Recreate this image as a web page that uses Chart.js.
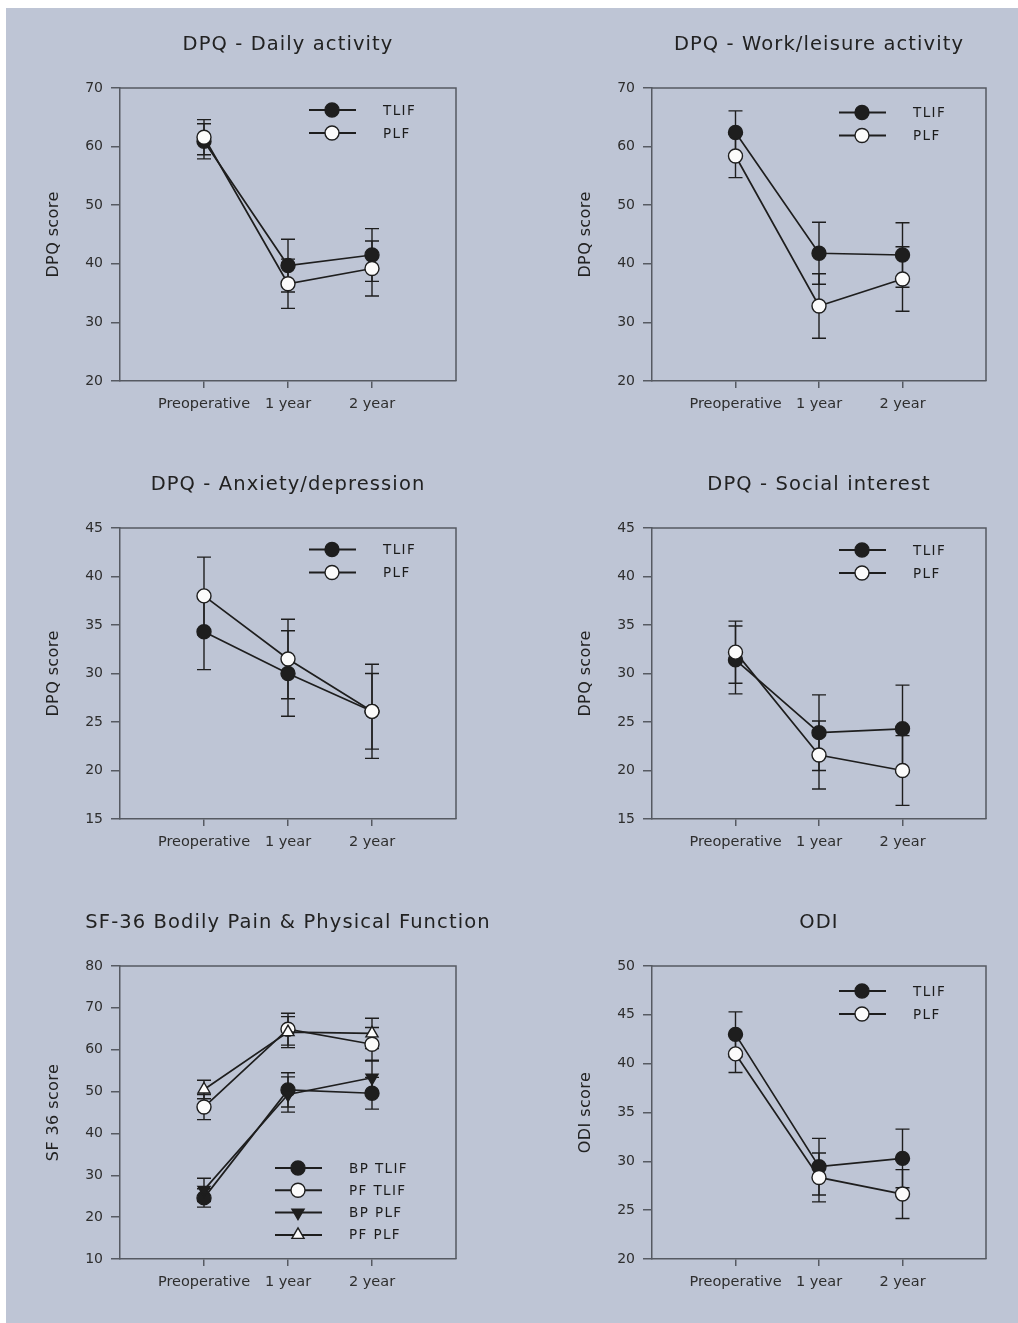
<!DOCTYPE html>
<html><head><meta charset="utf-8">
<script src="https://cdn.jsdelivr.net/npm/chart.js@4.4.1/dist/chart.umd.min.js"></script>
<style>
html,body{margin:0;padding:0;background:#fff;}
#page{position:relative;width:1018px;height:1323px;overflow:hidden;background:#fff;}
#bg{position:absolute;left:6px;top:8px;right:0;bottom:0;background:#bec5d5;}
canvas{position:absolute;}
</style></head><body>
<div id="page"><div id="bg"></div>
<canvas id="c1" width="509" height="440" style="left:0;top:0"></canvas>
<canvas id="c2" width="509" height="440" style="left:509px;top:0"></canvas>
<canvas id="c3" width="509" height="440" style="left:0;top:440px"></canvas>
<canvas id="c4" width="509" height="440" style="left:509px;top:440px"></canvas>
<canvas id="c5" width="509" height="443" style="left:0;top:880px"></canvas>
<canvas id="c6" width="509" height="443" style="left:509px;top:880px"></canvas>
</div>
<script>
// ---- data ----
const categories = ['Preoperative', '1 year', '2 year'];

const dailyTLIF = [60.9, 39.7, 41.5];
const dailyTLIFErr = [3.0, 4.5, 4.5];
const dailyPLF = [61.6, 36.6, 39.2];
const dailyPLFErr = [3.0, 4.2, 4.7];

const workTLIF = [62.4, 41.8, 41.5];
const workTLIFErr = [3.7, 5.3, 5.5];
const workPLF = [58.4, 32.8, 37.4];
const workPLFErr = [3.7, 5.5, 5.5];

const anxTLIF = [34.3, 30.0, 26.1];
const anxTLIFErr = [3.9, 4.4, 3.9];
const anxPLF = [38.0, 31.5, 26.1];
const anxPLFErr = [4.0, 4.1, 4.85];

const socTLIF = [31.4, 23.9, 24.3];
const socTLIFErr = [3.5, 3.9, 4.5];
const socPLF = [32.2, 21.6, 20.0];
const socPLFErr = [3.2, 3.5, 3.6];

const bpTLIF = [24.6, 50.4, 49.6];
const bpTLIFErr = [2.2, 4.1, 3.8];
const pfTLIF = [46.3, 64.9, 61.3];
const pfTLIFErr = [3.0, 3.8, 4.0];
const bpPLF = [26.5, 49.3, 53.3];
const bpPLFErr = [2.8, 4.2, 4.2];
const pfPLF = [50.5, 64.2, 63.9];
const pfPLFErr = [2.2, 3.7, 3.6];

const odiTLIF = [43.0, 29.45, 30.3];
const odiTLIFErr = [2.3, 2.9, 3.0];
const odiPLF = [41.0, 28.35, 26.65];
const odiPLFErr = [1.9, 2.5, 2.5];

// axis ranges [min, max, step]
const dpqActivityRange = [20, 70, 10];
const dpqMoodRange = [15, 45, 5];
const sf36Range = [10, 80, 10];
const odiRange = [20, 50, 5];

// ---- styles ----
const FONT = 'DejaVu Sans';
const LINE = '#1e1e1e';
const AXIS = '#565a62';
const TICK = '#2e2e2e';
const OPEN = '#fbfbfb';
const CAP = 7;
const YW = 60, XH = 40;

function drawMarker(ctx, style, rot, r, fill, x, y) {
  ctx.save();
  ctx.fillStyle = fill; ctx.strokeStyle = LINE; ctx.lineWidth = 1.4;
  ctx.beginPath();
  if (style === 'triangle') {
    let rad = rot * Math.PI / 180;
    for (let k = 0; k < 3; k++) {
      const px = x + Math.sin(rad) * r, py = y - Math.cos(rad) * r;
      if (k === 0) ctx.moveTo(px, py); else ctx.lineTo(px, py);
      rad += 2 * Math.PI / 3;
    }
    ctx.closePath();
  } else {
    ctx.arc(x, y, r, 0, Math.PI * 2);
  }
  ctx.fill(); ctx.stroke();
  ctx.restore();
}

function makePanel(cfg) {
  return {
    id: 'panel' + cfg.id,
    beforeDatasetsDraw(chart) {
      const ctx = chart.ctx, xs = chart.scales.x, ys = chart.scales.y;
      ctx.save();
      ctx.strokeStyle = LINE; ctx.lineWidth = 1.4;
      chart.data.datasets.forEach((ds, di) => {
        const err = cfg.series[di].err;
        ds.data.forEach((p, i) => {
          const e = err[i];
          const x = xs.getPixelForValue(p.x);
          const y1 = ys.getPixelForValue(p.y + e), y2 = ys.getPixelForValue(p.y - e);
          ctx.beginPath();
          ctx.moveTo(x, y1); ctx.lineTo(x, y2);
          ctx.moveTo(x - CAP, y1); ctx.lineTo(x + CAP, y1);
          ctx.moveTo(x - CAP, y2); ctx.lineTo(x + CAP, y2);
          ctx.stroke();
        });
      });
      ctx.restore();
    },
    afterDraw(chart) {
      const ctx = chart.ctx, a = chart.chartArea;
      ctx.save();
      // frame
      ctx.strokeStyle = AXIS; ctx.lineWidth = 1.5;
      ctx.beginPath();
      ctx.moveTo(a.left, a.top); ctx.lineTo(a.right, a.top); ctx.lineTo(a.right, a.bottom);
      ctx.stroke();
      // title
      ctx.fillStyle = '#222';
      ctx.font = '19.5px "' + FONT + '"';
      try { ctx.letterSpacing = '1.1px'; } catch (e) {}
      ctx.textAlign = 'center'; ctx.textBaseline = 'middle';
      ctx.fillText(cfg.title, (a.left + a.right) / 2, a.top - 43);
      // y title
      try { ctx.letterSpacing = '0.4px'; } catch (e) {}
      ctx.font = '16px "' + FONT + '"';
      ctx.save();
      ctx.translate(a.left - 66, (a.top + a.bottom) / 2);
      ctx.rotate(-Math.PI / 2);
      ctx.fillText(cfg.yTitle, 0, 0);
      ctx.restore();
      // legend
      const L = cfg.legend;
      ctx.font = '13.5px "' + FONT + '"';
      try { ctx.letterSpacing = '1.4px'; } catch (e) {}
      ctx.textAlign = 'left';
      cfg.series.forEach((s, i) => {
        const y = (L.fromBottom ? a.bottom - L.y : a.top + L.y) + i * L.dy;
        const xr = a.right;
        ctx.strokeStyle = LINE; ctx.lineWidth = 2;
        ctx.beginPath(); ctx.moveTo(xr - L.x0, y); ctx.lineTo(xr - L.x1, y); ctx.stroke();
        drawMarker(ctx, s.style, s.rot || 0, 7, s.fill, xr - L.xm, y);
        ctx.fillStyle = '#1c1c1c';
        ctx.fillText(s.label, xr - L.xt, y + 1);
      });
      ctx.restore();
    }
  };
}

function makeChart(cfg) {
  const [cl, ct, cw, ch] = cfg.canvas;
  const [pl, pt, pr, pb] = cfg.plot;
  const datasets = cfg.series.map(s => ({
    label: s.label,
    data: s.values.map((v, i) => ({ x: i + 1, y: v })),
    borderColor: LINE, borderWidth: 1.7,
    pointStyle: s.style, pointRotation: s.rot || 0,
    pointRadius: 7, pointHoverRadius: 7,
    pointBackgroundColor: s.fill, pointBorderColor: LINE, pointBorderWidth: 1.4,
    order: s.order, tension: 0, fill: false
  }));
  new Chart(document.getElementById(cfg.id), {
    type: 'line',
    data: { datasets },
    options: {
      responsive: false, animation: false, events: [],
      layout: { padding: { left: pl - cl - YW, top: pt - ct, right: cl + cw - pr, bottom: ct + ch - pb - XH } },
      plugins: { legend: { display: false }, tooltip: { enabled: false }, title: { display: false } },
      scales: {
        x: {
          type: 'linear', min: 0, max: 4,
          afterBuildTicks: s => { s.ticks = categories.map((c, i) => ({ value: i + 1 })); },
          afterFit: s => { s.height = XH; },
          ticks: { autoSkip: false, maxRotation: 0, padding: 8, color: TICK,
                   font: { family: FONT, size: 14.5 }, callback: v => categories[v - 1] },
          grid: { drawOnChartArea: false, drawTicks: true, tickLength: 7, color: AXIS, lineWidth: 1.5 },
          border: { display: true, color: AXIS, width: 1.5 }
        },
        y: {
          min: cfg.range[0], max: cfg.range[1],
          afterFit: s => { s.width = YW; },
          ticks: { stepSize: cfg.range[2], padding: 8, color: TICK, font: { family: FONT, size: 14 } },
          grid: { drawOnChartArea: false, drawTicks: true, tickLength: 9, color: AXIS, lineWidth: 1.5 },
          border: { display: true, color: AXIS, width: 1.5 }
        }
      }
    },
    plugins: [makePanel(cfg)]
  });
}

const twoLegend = (y) => ({ fromBottom: false, y: y, dy: 23, x0: 147, x1: 100, xm: 124, xt: 73 });

function pair(tv, te, pv, pe) {
  return [
    { label: 'TLIF', values: tv, err: te, style: 'circle', fill: LINE, order: 2 },
    { label: 'PLF', values: pv, err: pe, style: 'circle', fill: OPEN, order: 1 }
  ];
}

makeChart({ id: 'c1', canvas: [0, 0, 509, 440], plot: [120, 88, 456, 381],
  title: 'DPQ - Daily activity', yTitle: 'DPQ score', range: dpqActivityRange,
  series: pair(dailyTLIF, dailyTLIFErr, dailyPLF, dailyPLFErr), legend: twoLegend(22) });

makeChart({ id: 'c2', canvas: [509, 0, 509, 440], plot: [652, 88, 986, 381],
  title: 'DPQ - Work/leisure activity', yTitle: 'DPQ score', range: dpqActivityRange,
  series: pair(workTLIF, workTLIFErr, workPLF, workPLFErr), legend: twoLegend(24.5) });

makeChart({ id: 'c3', canvas: [0, 440, 509, 440], plot: [120, 528, 456, 819],
  title: 'DPQ - Anxiety/depression', yTitle: 'DPQ score', range: dpqMoodRange,
  series: pair(anxTLIF, anxTLIFErr, anxPLF, anxPLFErr), legend: twoLegend(21.5) });

makeChart({ id: 'c4', canvas: [509, 440, 509, 440], plot: [652, 528, 986, 819],
  title: 'DPQ - Social interest', yTitle: 'DPQ score', range: dpqMoodRange,
  series: pair(socTLIF, socTLIFErr, socPLF, socPLFErr), legend: twoLegend(22) });

makeChart({ id: 'c5', canvas: [0, 880, 509, 443], plot: [120, 966, 456, 1259],
  title: 'SF-36 Bodily Pain & Physical Function', yTitle: 'SF 36 score', range: sf36Range,
  series: [
    { label: 'BP TLIF', values: bpTLIF, err: bpTLIFErr, style: 'circle', fill: LINE, order: 4 },
    { label: 'PF TLIF', values: pfTLIF, err: pfTLIFErr, style: 'circle', fill: OPEN, order: 3 },
    { label: 'BP PLF', values: bpPLF, err: bpPLFErr, style: 'triangle', rot: 180, fill: LINE, order: 2 },
    { label: 'PF PLF', values: pfPLF, err: pfPLFErr, style: 'triangle', rot: 0, fill: OPEN, order: 1 }
  ],
  legend: { fromBottom: true, y: 91, dy: 22.3, x0: 181, x1: 134, xm: 158, xt: 107 } });

makeChart({ id: 'c6', canvas: [509, 880, 509, 443], plot: [652, 966, 986, 1259],
  title: 'ODI', yTitle: 'ODI score', range: odiRange,
  series: pair(odiTLIF, odiTLIFErr, odiPLF, odiPLFErr), legend: twoLegend(25) });
</script>
</body></html>
